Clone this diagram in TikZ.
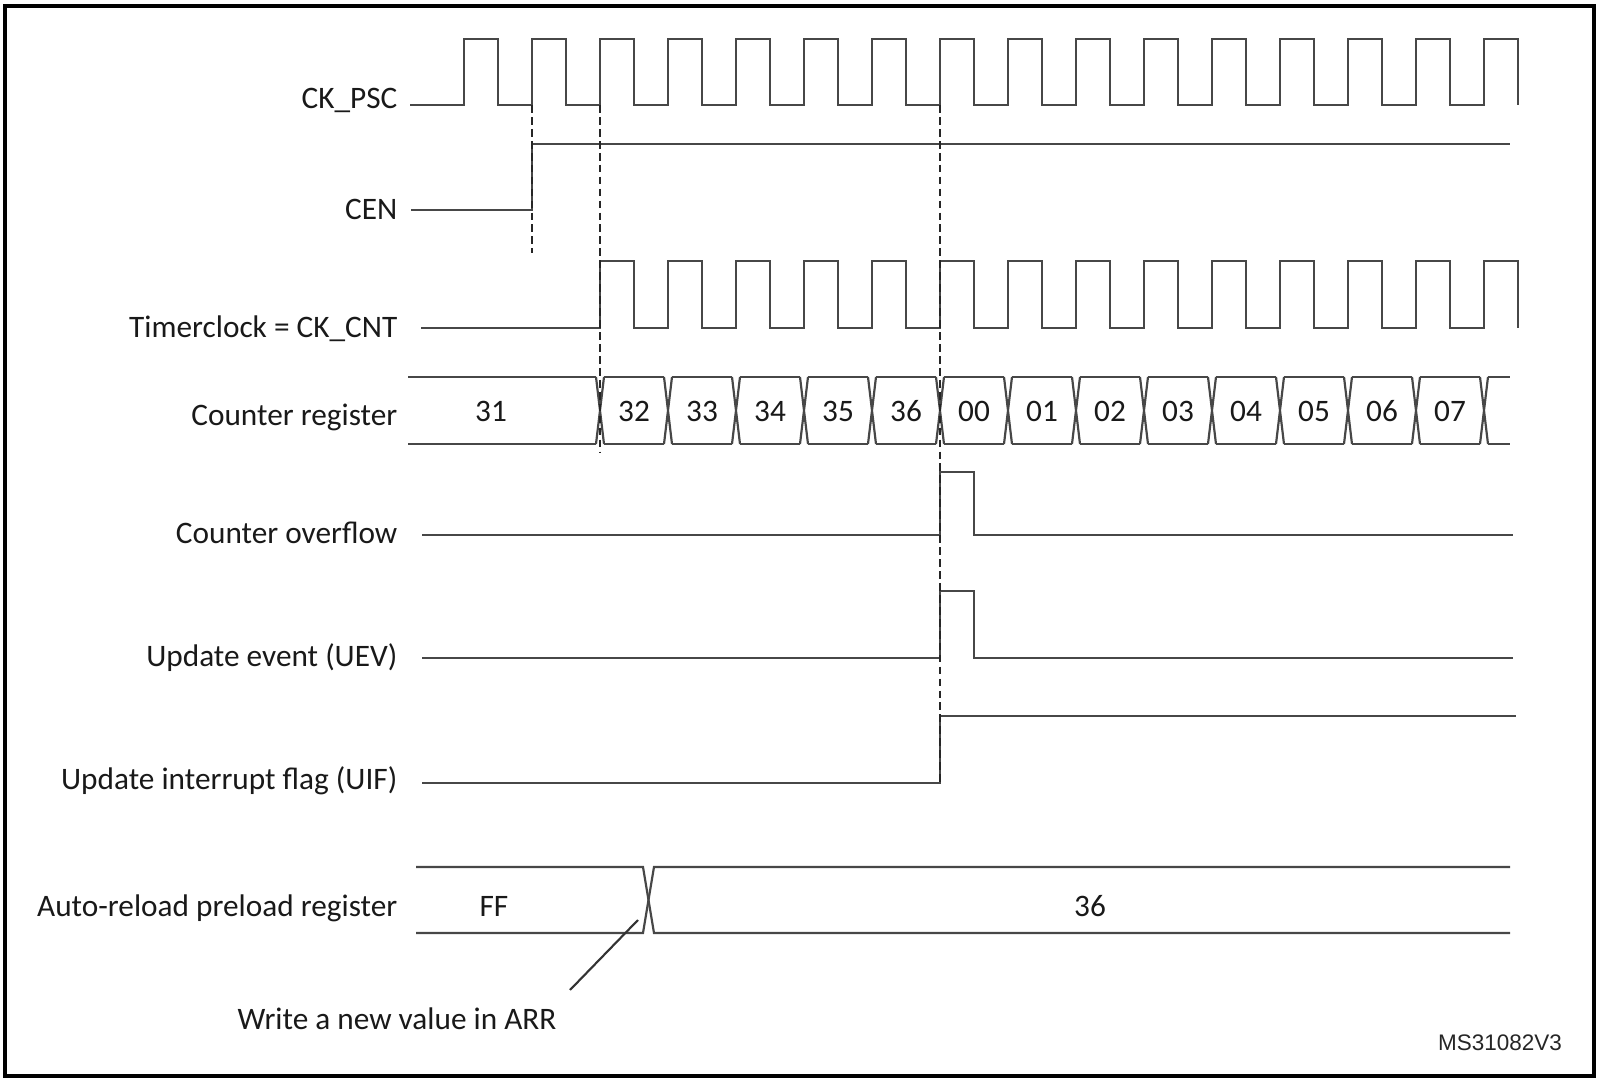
\documentclass[tikz,border=0pt]{standalone}
\usepackage{fontspec}
\setmainfont{Carlito}
\newfontfamily\tagfont{Liberation Sans}

\begin{document}
\begin{tikzpicture}[
                x = 0.1mm, y = -0.1mm,
                wave/.style = {draw, black!72, line width = 0.62pt},
                sync/.style = {draw, black!85, line width = 0.55pt, dash pattern = on 2.2pt off 1.2pt},
                sig/.style = {anchor = base east, inner sep = 0mm, text = black!90, font = \fontsize{8.9}{10}\selectfont},
                val/.style = {inner sep = 0mm, text = black!90, font = \fontsize{8.9}{10}\selectfont},
            ]
            \useasboundingbox (0,0) rectangle (1602,1082);
            \draw[line width = 0.9pt] (5,6) rectangle (1594,1076);

            % signal names
            \node (psc) [sig] at (398,109) {CK\_PSC};
            \node (cen) [sig] at (398,220) {CEN};
            \node (cnt) [sig] at (398,338) {Timerclock = CK\_CNT};
            \node (reg) [sig] at (398,426) {Counter register};
            \node (ovf) [sig] at (398,544) {Counter overflow};
            \node (uev) [sig] at (398,667) {Update event (UEV)};
            \node (uif) [sig] at (398,790) {Update interrupt flag (UIF)};
            \node (arr) [sig] at (398,917) {Auto-reload preload register};

            % clocks
            \path[wave] (410,105) \foreach \i in {0,...,15} {
                -- ({464+68*\i},105) -- ++(0,-66) -- ++(34,0) -- ++(0,66)};
            \path[wave] (421,328) \foreach \i in {0,...,13} {
                -- ({600+68*\i},328) -- ++(0,-67) -- ++(34,0) -- ++(0,67)};
            \path[wave] (411,210) -- (532,210) -- (532,144) -- (1510,144);

            % counter register
            \path[wave] (408,377) -- (596,377) (408,444) -- (596,444);
            \foreach \k in {0,...,13}
                \path[wave] ({596+68*\k},377) -- ++(8,67) ({596+68*\k},444) -- ++(8,-67);
            \foreach \k in {0,...,12}
                \path[wave] ({604+68*\k},377) -- ++(60,0) ({604+68*\k},444) -- ++(60,0);
            \path[wave] (1488,377) -- (1510,377) (1488,444) -- (1510,444);
            \node (c31) [val] at (491,411) {31};
            \foreach \v [count=\k from 0] in {32,33,34,35,36,00,01,02,03,04,05,06,07}
                \node (c\v) [val] at ({634+68*\k},411) {\v};

            % flags
            \path[wave] (422,535) -- (940,535) -- (940,472) -- (974,472) -- (974,535) -- (1513,535);
            \path[wave] (422,658) -- (940,658) -- (940,591) -- (974,591) -- (974,658) -- (1513,658);
            \path[wave] (422,783) -- (940,783) -- (940,716) -- (1516,716);

            % auto-reload register
            \path[wave] (416,867) -- (643,867) -- (654,933) -- (1510,933);
            \path[wave] (416,933) -- (643,933) -- (654,867) -- (1510,867);
            \node (ff) [val] at (494,906) {FF};
            \node (a36) [val] at (1090,906) {36};

            % sync lines
            \path[sync] (532,105) -- (532,253);
            \path[sync] (600,105) -- (600,453);
            \path[sync] (940,105) -- (940,784);

            % note
            \node (wr) [val, anchor = base] at (397,1030) {Write a new value in ARR};
            \coordinate (wrtip) at (638,920);
            \coordinate (wrfoot) at (570,990);
            \path[draw, black!80, line width = 0.6pt] (wrtip) -- (wrfoot);

            \node (tag) [inner sep = 0mm, text = black!85, font = \tagfont\fontsize{6.4}{7}\selectfont] at (1500,1043) {MS31082V3};
        \end{tikzpicture}
\end{document}
